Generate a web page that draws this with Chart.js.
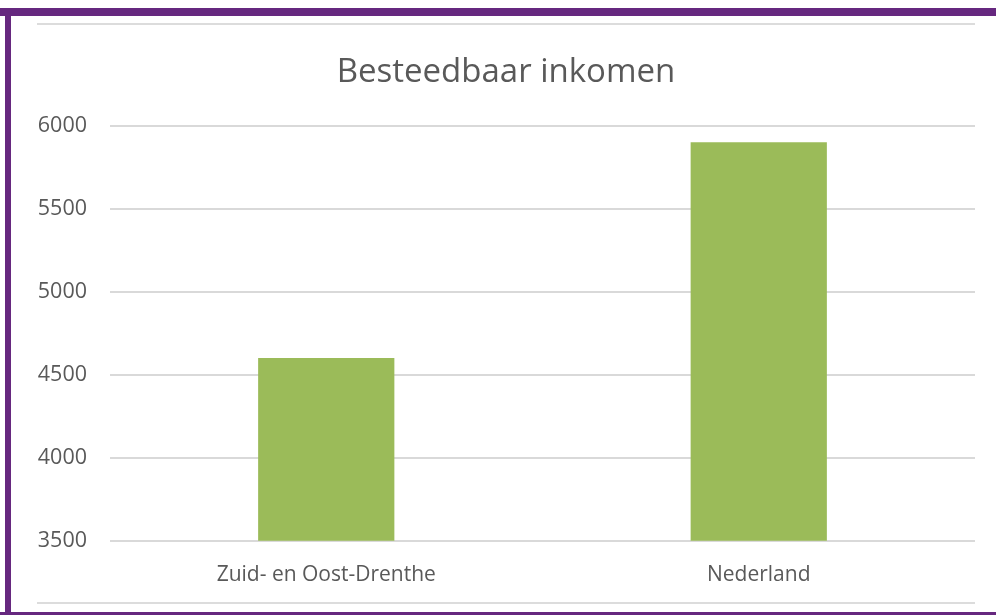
<!DOCTYPE html>
<html>
<head>
<meta charset="utf-8">
<script src="https://cdn.jsdelivr.net/npm/chart.js@4"></script>
<style>
    html, body { margin: 0; padding: 0; background: #ffffff; }
    #cadre { position: relative; width: 996px; height: 615px; overflow: hidden; }
    #graphique-inkomen { position: absolute; left: 0; top: 0; }
    .bord { position: absolute; background: #66287f; }
    .ligne { position: absolute; background: #dcdcdc; height: 2px; }
</style>
</head>
<body>
<div id="cadre">
    <canvas id="graphique-inkomen" width="996" height="615"></canvas>
    <!-- cadre violet et lignes fines de la diapositive -->
    <div class="bord" style="left:0; top:8px; width:996px; height:8px;"></div>
    <div class="bord" style="left:5px; top:8px; width:6px; height:607px;"></div>
    <div class="bord" style="left:0; top:612px; width:996px; height:3px;"></div>
    <div class="ligne" style="left:37px; top:23px; width:938px;"></div>
    <div class="ligne" style="left:37px; top:602px; width:938px;"></div>
</div>
<script>
// Données du graphique
const regions = ["Zuid- en Oost-Drenthe", "Nederland"];
const inkomen = [4600, 5900];
const titre = "Besteedbaar inkomen";
const yMin = 3500;
const yMax = 6000;
const yStap = 500;

const police = "'Open Sans', sans-serif";
const grisTexte = "#595959";

const data = {
    labels: regions,
    datasets: [{
        label: titre,
        data: inkomen,
        backgroundColor: "#9bbb59",
        categoryPercentage: 1,
        barPercentage: 0.315,
    }],
};

const config = {
    type: "bar",
    data: data,
    options: {
        responsive: false,
        animation: false,
        layout: {
            padding: { left: 37, right: 21, top: 0, bottom: 13 },
        },
        plugins: {
            legend: { display: false },
            tooltip: { enabled: false },
            title: {
                display: true,
                text: titre,
                color: grisTexte,
                font: { family: police, size: 33, weight: "normal" },
                padding: { top: 53, bottom: 33 },
            },
        },
        scales: {
            x: {
                grid: { display: false },
                border: { display: false },
                ticks: {
                    color: grisTexte,
                    font: { family: police, size: 21 },
                    padding: 14,
                },
            },
            y: {
                min: yMin,
                max: yMax,
                ticks: {
                    stepSize: yStap,
                    color: grisTexte,
                    font: { family: police, size: 21.5 },
                    padding: 23,
                    callback: function (valeur) {
                        return String(valeur);
                    },
                },
                grid: { color: "#d9d9d9", lineWidth: 2, drawTicks: false },
                border: { display: false },
                afterFit: function (scale) {
                    scale.width = 73;
                },
            },
        },
    },
};

new Chart(document.querySelector("#graphique-inkomen"), config);
</script>
</body>
</html>
